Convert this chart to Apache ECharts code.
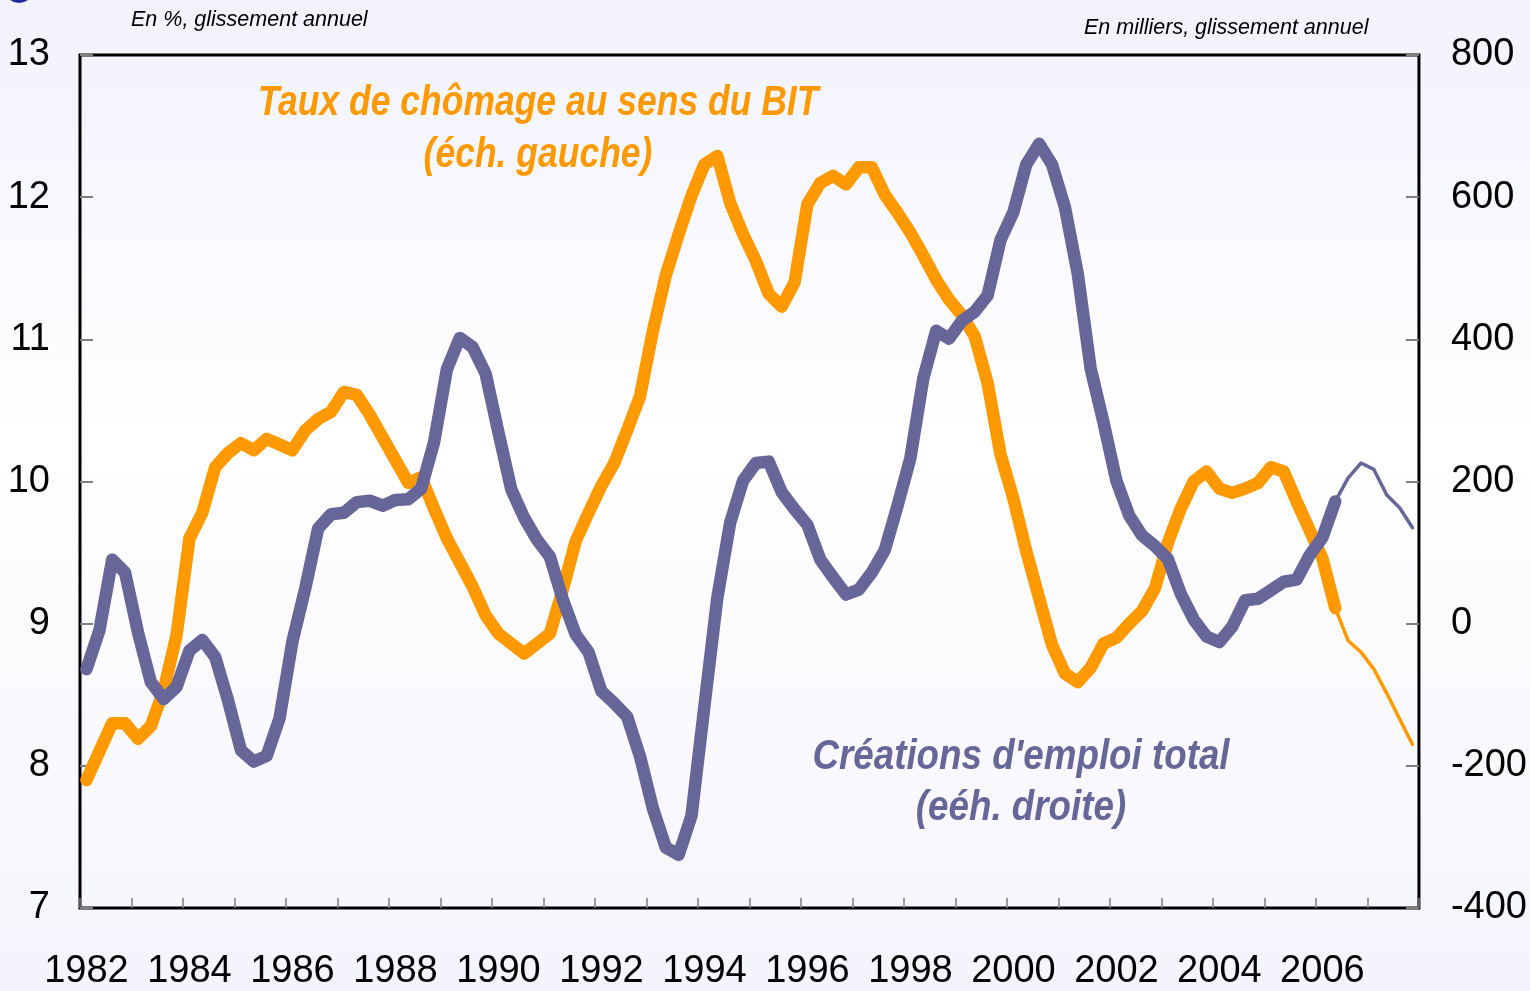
<!DOCTYPE html>
<html>
<head>
<meta charset="utf-8">
<script src="https://cdn.jsdelivr.net/npm/echarts@6/dist/echarts.min.js"></script>
<style>
html,body{margin:0;padding:0;}
body{background:linear-gradient(to bottom,#f1f2fc 0%,#fbfbff 30%,#ffffff 45%,#f4f4fc 100%);}
#chart{width:1530px;height:991px;}
</style>
</head>
<body>
<div id="chart"></div>
<script>
// Categories: quarters 1982T1 .. 2007T4
const years = [1982,1983,1984,1985,1986,1987,1988,1989,1990,1991,1992,1993,1994,1995,1996,1997,1998,1999,2000,2001,2002,2003,2004,2005,2006,2007];
const quarterNames = ['T1','T2','T3','T4'];
const quarters = [];
years.forEach(y => quarterNames.forEach(q => quarters.push(y + q)));
const lastObserved = '2006T2';

// Taux de chômage au sens du BIT (%), left axis
const unemployment = [
  7.90, 8.10, 8.30, 8.30, 8.19, 8.28, 8.53, 8.92, 9.60, 9.78,
  10.10, 10.20, 10.27, 10.22, 10.30, 10.26, 10.22, 10.36, 10.44, 10.49,
  10.63, 10.61, 10.47, 10.31, 10.15, 9.99, 10.03, 9.81, 9.60, 9.43,
  9.26, 9.06, 8.93, 8.86, 8.79, 8.86, 8.93, 9.24, 9.58, 9.78,
  9.97, 10.13, 10.36, 10.60, 11.06, 11.45, 11.74, 12.01, 12.23, 12.29,
  11.96, 11.74, 11.55, 11.32, 11.23, 11.40, 11.95, 12.10, 12.15, 12.09,
  12.21, 12.21, 12.02, 11.89, 11.75, 11.59, 11.42, 11.28, 11.17, 11.02,
  10.69, 10.19, 9.88, 9.51, 9.18, 8.85, 8.65, 8.59, 8.69, 8.86,
  8.90, 9.00, 9.09, 9.25, 9.57, 9.81, 10.00, 10.07, 9.95, 9.92,
  9.95, 9.99, 10.10, 10.07, 9.86, 9.66, 9.46, 9.11, 8.88, 8.80,
  8.68, 8.51, 8.33, 8.15
];

// Créations d'emploi total (milliers), right axis
const jobs = [
  -64, -10, 90, 72, -12, -82, -106, -89, -38, -23,
  -47, -108, -178, -194, -186, -133, -25, 50, 134, 154,
  156, 171, 173, 166, 174, 175, 190, 255, 358, 402,
  389, 352, 269, 189, 149, 118, 94, 34, -15, -40,
  -95, -112, -131, -187, -260, -315, -325, -270, -116, 36,
  142, 201, 226, 228, 185, 161, 139, 90, 65, 41,
  48, 72, 103, 166, 233, 345, 412, 401, 426, 439,
  462, 540, 579, 646, 675, 646, 586, 492, 359, 283,
  201, 152, 124, 109, 91, 42, 6, -18, -26, -4,
  33, 35, 47, 59, 62, 96, 121, 172, 205, 226,
  217, 181, 163, 135
];

const leftTicks = {min: 7, max: 13, interval: 1};
const rightTicks = {min: -400, max: 800, interval: 200};

const cut = quarters.indexOf(lastObserved);
const observed = arr => arr.map((v, i) => i <= cut ? v : null);
const forecast = arr => arr.map((v, i) => i >= cut ? v : null);

const ORANGE = '#FF9900';
const PURPLE = '#666699';
const tickFont = 'Liberation Sans, Arial, sans-serif';
const bigFont = 'italic bold 42px Liberation Sans, Arial, sans-serif';

const chart = echarts.init(document.getElementById('chart'), null, {renderer: 'canvas'});
chart.setOption({
  backgroundColor: 'transparent',
  animation: false,
  grid: {left: 80, right: 110, top: 55, bottom: 79, show: true, borderColor: '#000', borderWidth: 3, backgroundColor: 'transparent'},
  xAxis: {
    type: 'category',
    data: quarters,
    boundaryGap: true,
    axisLine: {show: false, onZero: false},
    axisTick: {show: true, inside: true, interval: 3, length: 10, lineStyle: {color: '#7f7f7f', width: 1.5}},
    axisLabel: {interval: 7, margin: 45, color: '#000', fontSize: 38, fontFamily: tickFont,
      formatter: v => v.slice(0, 4)},
    splitLine: {show: false}
  },
  yAxis: [
    {type: 'value', position: 'left', min: leftTicks.min, max: leftTicks.max, interval: leftTicks.interval,
      axisLine: {show: false},
      axisTick: {show: true, inside: true, length: 13, lineStyle: {color: '#7f7f7f', width: 2}},
      axisLabel: {margin: 30, color: '#000', fontSize: 38, fontFamily: tickFont},
      splitLine: {show: false}},
    {type: 'value', position: 'right', min: rightTicks.min, max: rightTicks.max, interval: rightTicks.interval,
      axisLine: {show: false},
      axisTick: {show: true, inside: true, length: 13, lineStyle: {color: '#7f7f7f', width: 2}},
      axisLabel: {margin: 32, color: '#000', fontSize: 38, fontFamily: tickFont},
      splitLine: {show: false}}
  ],
  series: [
    {type: 'line', name: 'chomage', yAxisIndex: 0, data: observed(unemployment), symbol: 'none',
      lineStyle: {color: ORANGE, width: 12.5, cap: 'round', join: 'round'}, z: 2},
    {type: 'line', name: 'chomage prev', yAxisIndex: 0, data: forecast(unemployment), symbol: 'none',
      lineStyle: {color: ORANGE, width: 3.5, cap: 'round', join: 'round'}, z: 2},
    {type: 'line', name: 'emploi', yAxisIndex: 1, data: observed(jobs), symbol: 'none',
      lineStyle: {color: PURPLE, width: 12.5, cap: 'round', join: 'round'}, z: 3},
    {type: 'line', name: 'emploi prev', yAxisIndex: 1, data: forecast(jobs), symbol: 'none',
      lineStyle: {color: PURPLE, width: 3.5, cap: 'round', join: 'round'}, z: 3}
  ],
  graphic: [
    {type: 'circle', shape: {cx: 19, cy: -12, r: 15}, style: {fill: '#1f2a9c'}},
    {type: 'text', left: 131, top: 9, style: {text: 'En %, glissement annuel', font: 'italic 21.5px Liberation Sans, Arial, sans-serif', fill: '#000'}},
    {type: 'text', left: 1084, top: 17, style: {text: 'En milliers, glissement annuel', font: 'italic 21.5px Liberation Sans, Arial, sans-serif', fill: '#000'}},
    {type: 'text', x: 538, y: 103, scaleX: 0.845, style: {text: 'Taux de chômage au sens du BIT', font: bigFont, fill: ORANGE, align: 'center', verticalAlign: 'middle'}},
    {type: 'text', x: 538, y: 155, scaleX: 0.845, style: {text: '(éch. gauche)', font: bigFont, fill: ORANGE, align: 'center', verticalAlign: 'middle'}},
    {type: 'text', x: 1021, y: 757, scaleX: 0.875, style: {text: "Créations d'emploi total", font: bigFont, fill: PURPLE, align: 'center', verticalAlign: 'middle'}},
    {type: 'text', x: 1021, y: 808, scaleX: 0.875, style: {text: '(eéh. droite)', font: bigFont, fill: PURPLE, align: 'center', verticalAlign: 'middle'}}
  ]
});
</script>
</body>
</html>
